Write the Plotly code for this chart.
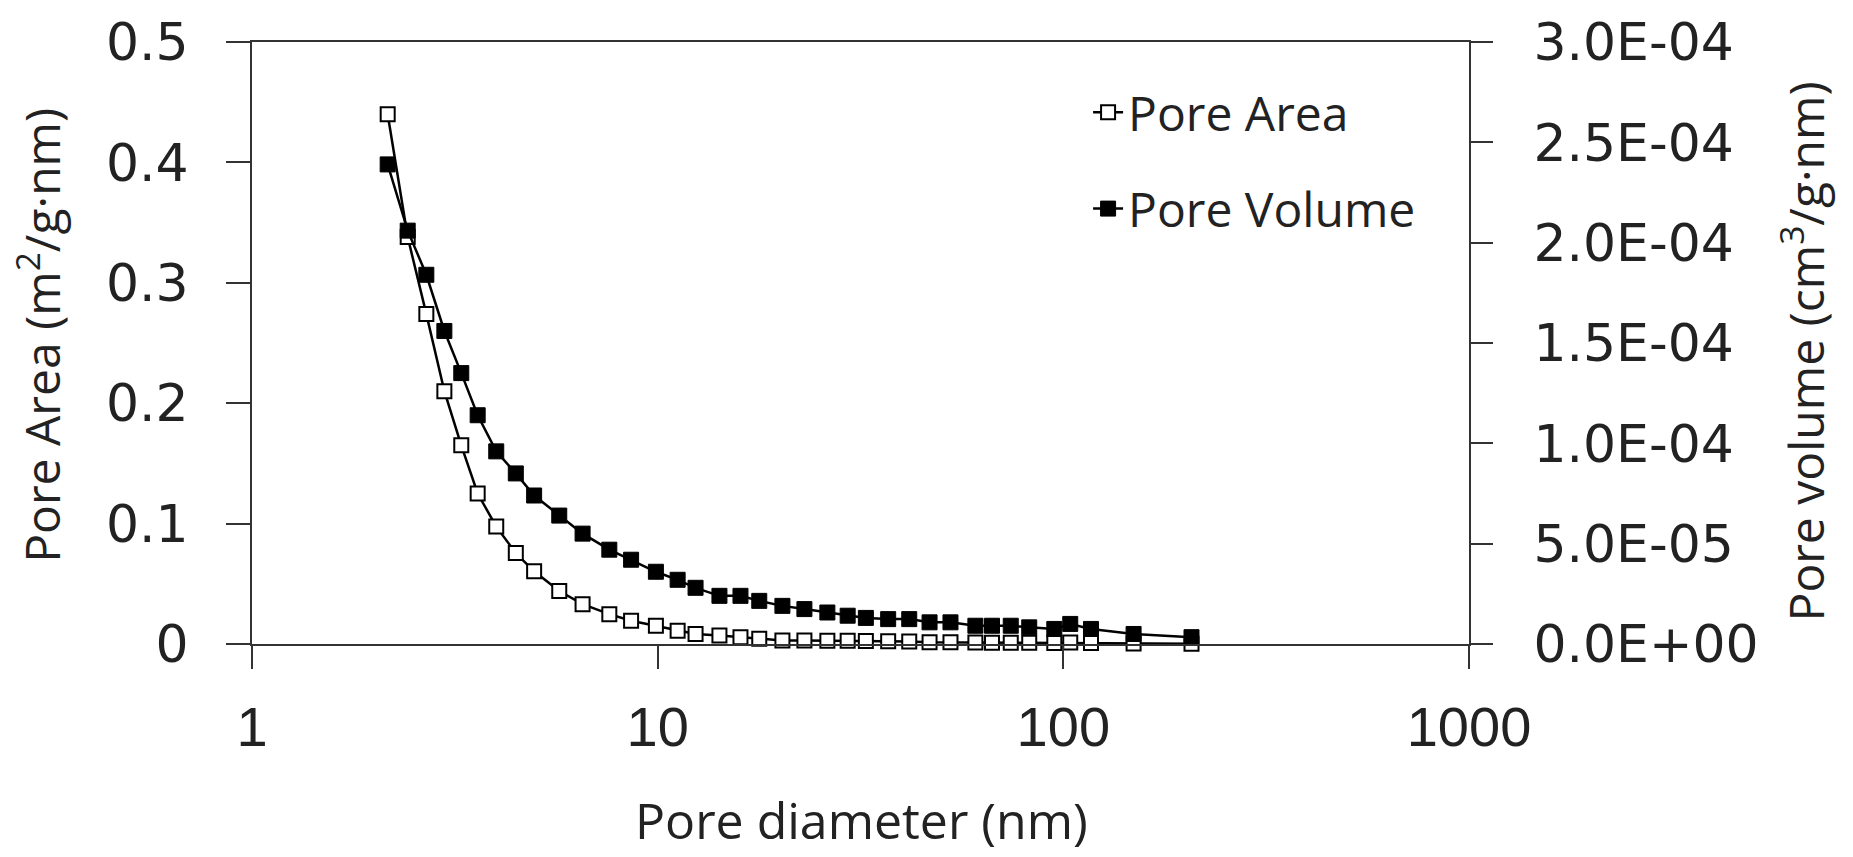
import plotly.graph_objects as go

# Pore diameter (nm)
diameter = [2.16, 2.42, 2.69, 2.98, 3.28, 3.60, 4.00, 4.47, 4.96, 5.72, 6.53, 7.60, 8.60, 9.90,
            11.2, 12.4, 14.2, 16.0, 17.8, 20.3, 23.0, 26.2, 29.4, 32.6, 37.0, 41.7, 46.8, 52.7,
            60.7, 66.7, 74.2, 82.4, 95.0, 104, 117, 149, 207]

# Pore area (m2/g.nm) - left axis
pore_area = [0.440, 0.338, 0.274, 0.210, 0.165, 0.125, 0.0975, 0.0755, 0.0604, 0.0440, 0.0331,
             0.0248, 0.0193, 0.0152, 0.0111, 0.0084, 0.0070, 0.0056, 0.0043, 0.0030, 0.0029,
             0.0028, 0.0027, 0.0025, 0.0022, 0.0020, 0.0015, 0.0014, 0.0012, 0.0011, 0.0010,
             0.0010, 0.0008, 0.0012, 0.0008, 0.0005, 0.0003]

# Pore volume (cm3/g.nm) - right axis
pore_volume = [2.39e-4, 2.06e-4, 1.84e-4, 1.56e-4, 1.35e-4, 1.14e-4, 9.6e-5, 8.5e-5, 7.4e-5,
               6.4e-5, 5.5e-5, 4.7e-5, 4.2e-5, 3.6e-5, 3.2e-5, 2.8e-5, 2.4e-5, 2.4e-5, 2.15e-5,
               1.9e-5, 1.74e-5, 1.57e-5, 1.41e-5, 1.3e-5, 1.24e-5, 1.24e-5, 1.08e-5, 1.08e-5,
               9.1e-6, 9.1e-6, 9.1e-6, 8.3e-6, 7.5e-6, 1.0e-5, 7.5e-6, 5.0e-6, 3.4e-6]

x_tickvals = [1, 10, 100, 1000]
x_ticktext = ["1", "10", "100", "1000"]
y_tickvals = [0, 0.1, 0.2, 0.3, 0.4, 0.5]
y_ticktext = ["0", "0.1", "0.2", "0.3", "0.4", "0.5"]
y2_tickvals = [0, 5e-5, 1e-4, 1.5e-4, 2e-4, 2.5e-4, 3e-4]
y2_ticktext = ["0.0E+00", "5.0E-05", "1.0E-04", "1.5E-04", "2.0E-04", "2.5E-04", "3.0E-04"]

fig = go.Figure()
fig.add_trace(go.Scatter(
    x=diameter, y=pore_area, name="Pore Area", mode="lines+markers",
    line=dict(color="black", width=2.5),
    marker=dict(symbol="square", size=14, color="white", line=dict(color="black", width=2)),
    cliponaxis=False, legendgroup="a"))
fig.add_trace(go.Scatter(
    x=diameter, y=pore_volume, name="Pore Volume", mode="lines+markers", yaxis="y2",
    line=dict(color="black", width=2.5),
    marker=dict(symbol="square", size=15, color="black", line=dict(color="black", width=1)),
    cliponaxis=False, legendgroup="b"))

tick_font_y = dict(family="DejaVu Sans", size=52, color="#222")
title_font = dict(family="Open Sans", size=48, color="#222")
fig.update_layout(
    width=1853, height=857, autosize=False,
    margin=dict(l=252, r=384, t=35, b=213),
    paper_bgcolor="white", plot_bgcolor="white",
    showlegend=True,
    legend=dict(x=0.687, y=0.946, xanchor="left", yanchor="top",
                font=dict(family="Open Sans", size=48, color="#222"),
                bgcolor="rgba(0,0,0,0)", tracegroupgap=31, traceorder="grouped"),
    xaxis=dict(type="log", range=[0, 3], tickvals=x_tickvals, ticktext=x_ticktext,
               ticks="outside", ticklen=23, tickwidth=2, tickcolor="#333",
               showline=True, linecolor="#333", linewidth=2, mirror=True,
               showgrid=False, zeroline=False,
               tickfont=dict(family="Liberation Sans", size=56, color="#222"),
               ticklabelstandoff=10),
    yaxis=dict(range=[0, 0.5], tickvals=y_tickvals, ticktext=y_ticktext,
               ticks="outside", ticklen=24, tickwidth=2, tickcolor="#333",
               showline=True, linecolor="#333", linewidth=2,
               showgrid=False, zeroline=False, tickfont=tick_font_y,
               ticklabelstandoff=27),
    yaxis2=dict(range=[0, 3e-4], tickvals=y2_tickvals, ticktext=y2_ticktext,
                overlaying="y", side="right",
                ticks="outside", ticklen=22, tickwidth=2, tickcolor="#333",
                showline=True, linecolor="#333", linewidth=2,
                showgrid=False, zeroline=False, tickfont=tick_font_y,
                ticklabelstandoff=30),
    annotations=[
        dict(text="Pore diameter (nm)", x=0.501, y=-0.292, xref="paper", yref="paper",
             xanchor="center", yanchor="middle", showarrow=False,
             font=dict(family="Open Sans", size=50, color="#222")),
        dict(text="Pore Area (m<sup>2</sup>/g·nm)", x=-0.175, y=0.512, xref="paper", yref="paper",
             xanchor="center", yanchor="middle", showarrow=False, textangle=-90,
             font=title_font),
        dict(text="Pore volume (cm<sup>3</sup>/g·nm)", x=1.2745, y=0.486, xref="paper", yref="paper",
             xanchor="center", yanchor="middle", showarrow=False, textangle=-90,
             font=title_font),
    ],
)

fig.write_html("out.html")
